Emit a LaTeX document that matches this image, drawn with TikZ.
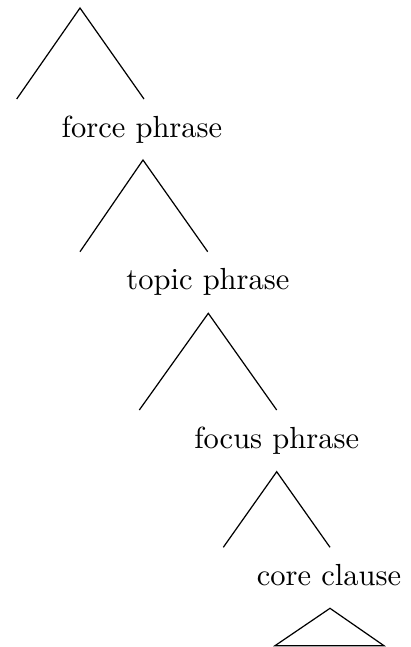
\documentclass[tikz,border=0pt]{standalone}
\begin{document}
\begin{tikzpicture}[x=0.3277pt,y=-0.3277pt,
  lbl/.style={anchor=base,inner sep=0pt,font=\normalsize},
  edge/.style={draw=black,line width=0.4pt}]
\useasboundingbox (0,0) rectangle (411,647);
% tree 1
\coordinate (r0) at (80,8);
\coordinate (l0) at (16.7,99);
\coordinate (c0) at (144,99);
\node[lbl] (force) at (142,137) {force phrase};
\coordinate (r1) at (143,160);
\coordinate (l1) at (80,251.7);
\coordinate (c1) at (207.7,251.7);
\node[lbl] (topic) at (208,289) {topic phrase};
\coordinate (r2) at (208.3,313.3);
\coordinate (l2) at (139.3,410);
\coordinate (c2) at (276.7,410);
\node[lbl] (focus) at (276.7,448) {focus phrase};
\coordinate (r3) at (276.7,471.7);
\coordinate (l3) at (223.3,547.3);
\coordinate (c3) at (330,547.3);
\node[lbl] (core) at (329,585) {core clause};
\coordinate (t0) at (330,608.3);
\coordinate (tl) at (275,645.7);
\coordinate (tr) at (384,645.7);
\draw[edge] (l0) -- (r0) -- (c0);
\draw[edge] (l1) -- (r1) -- (c1);
\draw[edge] (l2) -- (r2) -- (c2);
\draw[edge] (l3) -- (r3) -- (c3);
\draw[edge] (tl) -- (t0) -- (tr) -- cycle;
\end{tikzpicture}
\end{document}
